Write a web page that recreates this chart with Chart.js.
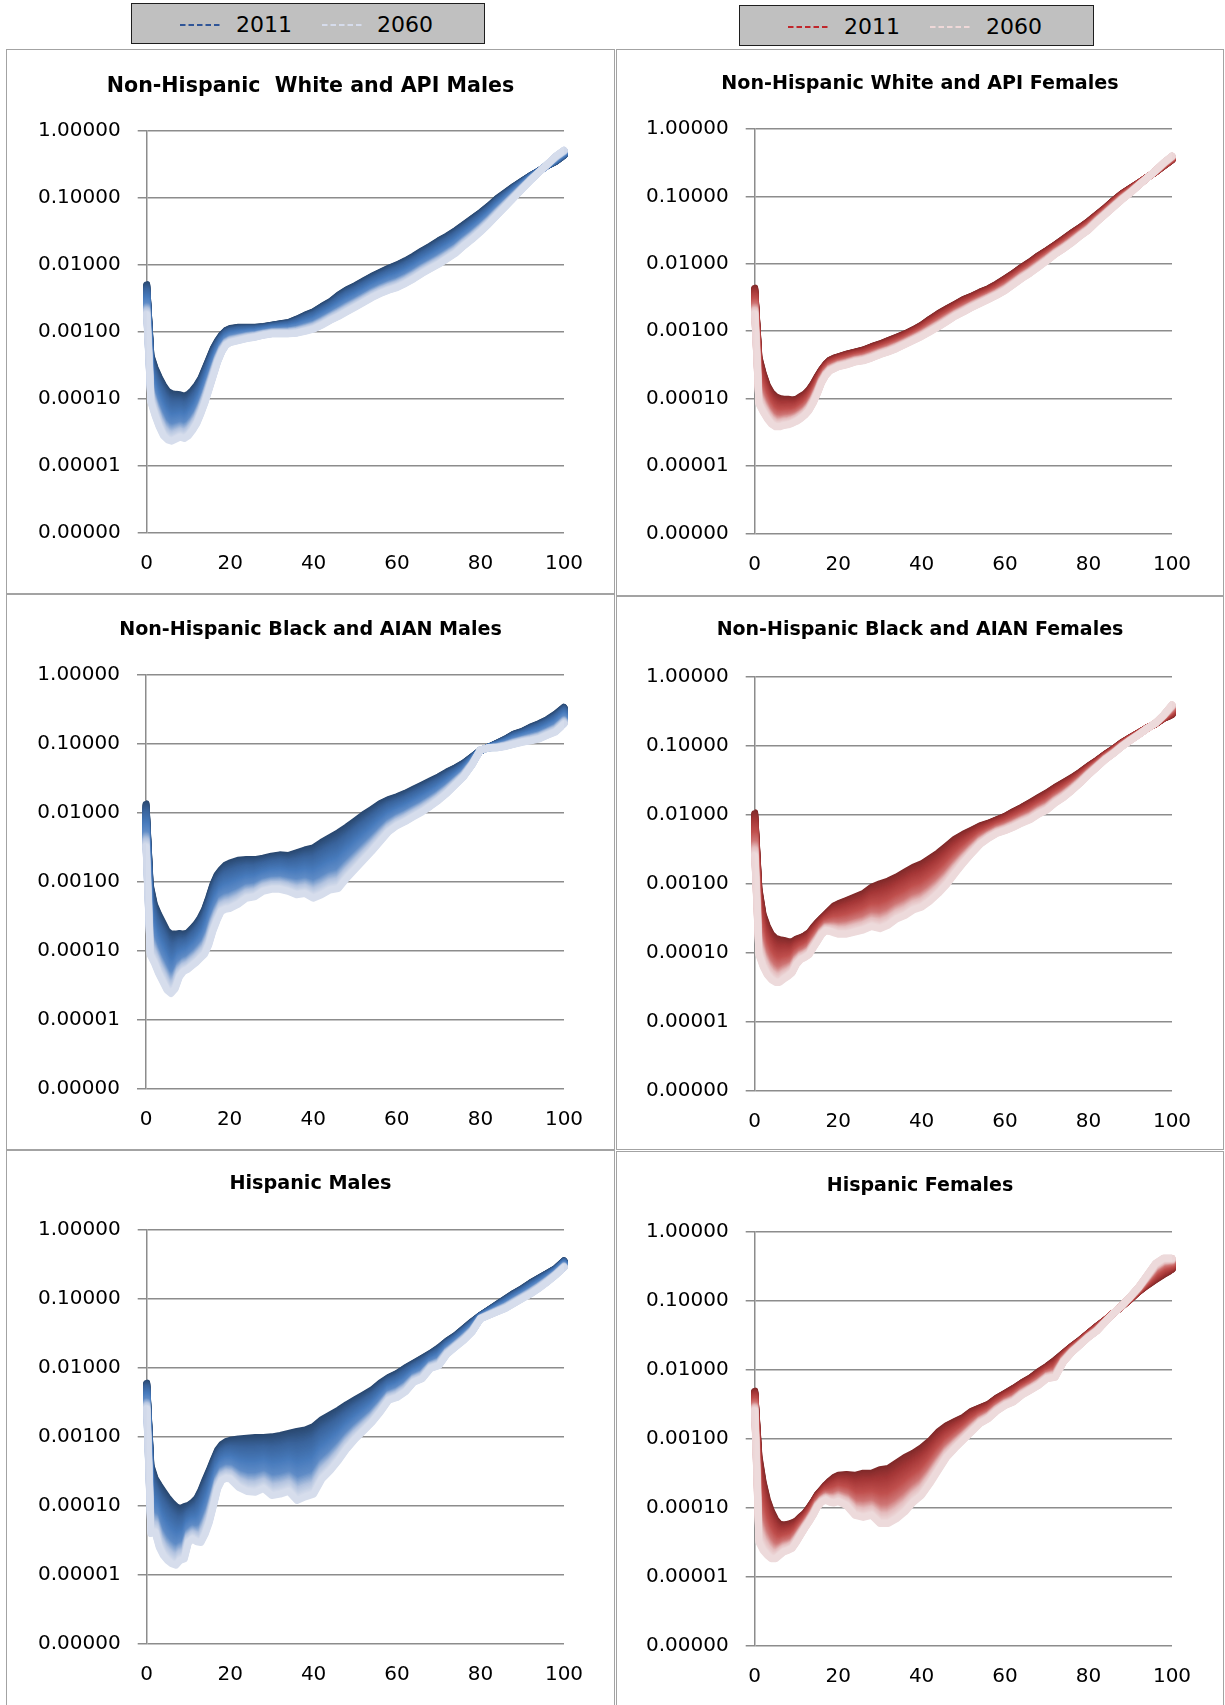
<!DOCTYPE html>
<html>
<head>
<meta charset="utf-8">
<script src="https://cdn.jsdelivr.net/npm/chart.js@4.4.0/dist/chart.umd.min.js"></script>
<style>
  html, body { margin: 0; padding: 0; background: #fff; }
  body { width: 1225px; height: 1705px; position: relative; overflow: hidden; font-family: "DejaVu Sans", sans-serif; }
  .panel { position: absolute; box-sizing: border-box; border: 1.5px solid #a3a3a3; pointer-events: none; }
  .title { position: absolute; text-align: center; font-weight: bold; color: #000; white-space: pre; }
  canvas { position: absolute; }
  .legend { position: absolute; box-sizing: border-box; background: #c0c0c0; border: 1.5px solid #1e1e1e; }
  .legend span { position: absolute; font-size: 22px; line-height: 22px; color: #000; }
  .legend svg { position: absolute; }
</style>
</head>
<body>
<script>
// Death probability by single year of age, projection years 2011 and 2060
const ages = [0,1,2,3,4,5,6,7,8,9,10,11,12,13,14,15,16,17,18,19,20,
  22,24,26,28,30,32,34,36,38,40,42,44,46,48,50,52,54,56,58,60,
  62,64,66,68,70,72,74,76,78,80,82,84,86,88,90,92,94,96,98,100];

const whiteApiMales2011 = [5.1e-3,4.5e-4,2.9e-4,2.1e-4,1.6e-4,1.3e-4,1.2e-4,1.17e-4,1.15e-4,1.1e-4,1.17e-4,1.35e-4,1.62e-4,2.04e-4,2.88e-4,4.07e-4,5.75e-4,7.41e-4,9.12e-4,1.05e-3,1.12e-3,
  1.17e-3,1.17e-3,1.17e-3,1.2e-3,1.26e-3,1.32e-3,1.38e-3,1.55e-3,1.78e-3,2.0e-3,2.4e-3,2.82e-3,3.55e-3,4.27e-3,4.9e-3,5.75e-3,6.76e-3,7.76e-3,8.91e-3,1.0e-2,
  1.15e-2,1.35e-2,1.62e-2,1.91e-2,2.29e-2,2.69e-2,3.24e-2,3.98e-2,4.9e-2,6.03e-2,7.59e-2,9.77e-2,0.12,0.148,0.178,0.214,0.251,0.302,0.347,0.427];
const whiteApiMales2060 = [1.78e-3,8.91e-5,5.62e-5,3.8e-5,2.82e-5,2.45e-5,2.34e-5,2.51e-5,2.69e-5,2.57e-5,2.82e-5,3.39e-5,4.27e-5,6.03e-5,8.91e-5,1.41e-4,2.24e-4,3.55e-4,5.01e-4,6.31e-4,6.92e-4,
  7.41e-4,7.94e-4,8.32e-4,8.91e-4,9.33e-4,9.33e-4,9.33e-4,9.55e-4,1.02e-3,1.1e-3,1.26e-3,1.48e-3,1.7e-3,2.0e-3,2.34e-3,2.75e-3,3.24e-3,3.72e-3,4.17e-3,4.57e-3,
  5.25e-3,6.17e-3,7.41e-3,8.71e-3,1.02e-2,1.23e-2,1.48e-2,1.91e-2,2.4e-2,3.09e-2,4.07e-2,5.5e-2,7.41e-2,0.1,0.135,0.182,0.24,0.316,0.417,0.513];

const whiteApiFemales2011 = [4.37e-3,4.17e-4,2.4e-4,1.58e-4,1.23e-4,1.07e-4,1.0e-4,9.77e-5,9.77e-5,9.55e-5,9.77e-5,1.07e-4,1.17e-4,1.35e-4,1.66e-4,2.14e-4,2.69e-4,3.24e-4,3.72e-4,3.98e-4,4.17e-4,
  4.57e-4,4.9e-4,5.25e-4,5.89e-4,6.46e-4,7.24e-4,8.13e-4,9.12e-4,1.05e-3,1.23e-3,1.51e-3,1.82e-3,2.14e-3,2.51e-3,2.95e-3,3.31e-3,3.8e-3,4.27e-3,5.01e-3,6.03e-3,
  7.24e-3,8.91e-3,1.07e-2,1.32e-2,1.58e-2,1.91e-2,2.34e-2,2.88e-2,3.47e-2,4.27e-2,5.37e-2,6.76e-2,8.71e-2,0.11,0.132,0.158,0.191,0.229,0.282,0.347];
const whiteApiFemales2060 = [1.78e-3,8.32e-5,6.31e-5,5.01e-5,4.17e-5,3.8e-5,3.8e-5,3.98e-5,4.07e-5,4.27e-5,4.57e-5,5.01e-5,5.62e-5,6.61e-5,8.51e-5,1.17e-4,1.7e-4,2.19e-4,2.57e-4,2.75e-4,2.95e-4,
  3.16e-4,3.47e-4,3.63e-4,3.98e-4,4.47e-4,4.9e-4,5.5e-4,6.31e-4,7.24e-4,8.32e-4,9.77e-4,1.15e-3,1.38e-3,1.66e-3,1.91e-3,2.24e-3,2.57e-3,2.95e-3,3.39e-3,3.98e-3,
  4.9e-3,6.03e-3,7.24e-3,8.91e-3,1.1e-2,1.38e-2,1.66e-2,2.04e-2,2.57e-2,3.16e-2,4.17e-2,5.37e-2,6.92e-2,8.91e-2,0.112,0.145,0.186,0.24,0.316,0.398];

const blackAianMales2011 = [1.35e-2,9.12e-4,4.68e-4,3.39e-4,2.57e-4,1.95e-4,1.74e-4,1.74e-4,1.78e-4,1.74e-4,1.82e-4,2.09e-4,2.45e-4,3.02e-4,3.98e-4,5.89e-4,9.12e-4,1.26e-3,1.51e-3,1.74e-3,1.86e-3,
  2.04e-3,2.09e-3,2.09e-3,2.19e-3,2.34e-3,2.45e-3,2.4e-3,2.63e-3,2.88e-3,3.09e-3,3.72e-3,4.37e-3,5.13e-3,6.17e-3,7.59e-3,9.33e-3,1.12e-2,1.35e-2,1.55e-2,1.7e-2,
  1.91e-2,2.19e-2,2.51e-2,2.88e-2,3.31e-2,3.89e-2,4.47e-2,5.25e-2,6.46e-2,7.94e-2,8.91e-2,0.102,0.117,0.138,0.151,0.174,0.195,0.224,0.269,0.339];
const blackAianMales2060 = [3.16e-3,8.71e-5,6.61e-5,4.68e-5,3.55e-5,2.69e-5,2.4e-5,2.82e-5,4.17e-5,5.01e-5,5.37e-5,6.03e-5,6.76e-5,7.76e-5,8.91e-5,1.2e-4,1.91e-4,2.75e-4,3.72e-4,3.98e-4,4.07e-4,
  4.68e-4,5.75e-4,6.03e-4,7.24e-4,7.76e-4,7.76e-4,7.24e-4,6.46e-4,6.76e-4,5.75e-4,6.46e-4,7.59e-4,7.94e-4,1.12e-3,1.51e-3,2.04e-3,2.75e-3,3.8e-3,5.25e-3,6.46e-3,
  7.41e-3,8.71e-3,1.02e-2,1.23e-2,1.51e-2,1.91e-2,2.51e-2,3.31e-2,4.9e-2,8.13e-2,8.71e-2,8.71e-2,9.12e-2,9.77e-2,0.105,0.11,0.117,0.132,0.148,0.191];

const blackAianFemales2011 = [1.07e-2,8.71e-4,3.63e-4,2.45e-4,1.86e-4,1.62e-4,1.55e-4,1.51e-4,1.45e-4,1.45e-4,1.58e-4,1.66e-4,1.78e-4,1.95e-4,2.34e-4,2.75e-4,3.16e-4,3.63e-4,4.17e-4,4.79e-4,5.13e-4,
  5.75e-4,6.46e-4,7.24e-4,8.91e-4,1.0e-3,1.1e-3,1.26e-3,1.48e-3,1.74e-3,1.95e-3,2.34e-3,2.82e-3,3.55e-3,4.47e-3,5.25e-3,6.03e-3,6.92e-3,7.59e-3,8.51e-3,9.55e-3,
  1.12e-2,1.29e-2,1.51e-2,1.78e-2,2.09e-2,2.51e-2,2.95e-2,3.47e-2,4.17e-2,5.13e-2,6.17e-2,7.59e-2,9.12e-2,0.112,0.132,0.155,0.182,0.209,0.251,0.282];
const blackAianFemales2060 = [2.51e-3,9.33e-5,6.31e-5,4.79e-5,4.07e-5,3.72e-5,3.72e-5,4.17e-5,4.57e-5,5.13e-5,6.76e-5,7.94e-5,8.51e-5,9.33e-5,1.17e-4,1.45e-4,1.82e-4,2.09e-4,2.04e-4,1.95e-4,1.86e-4,
  1.86e-4,2.0e-4,2.14e-4,2.4e-4,2.24e-4,2.51e-4,3.09e-4,3.47e-4,4.17e-4,4.57e-4,5.62e-4,7.24e-4,9.77e-4,1.41e-3,2.0e-3,2.75e-3,3.72e-3,4.57e-3,5.37e-3,5.89e-3,
  6.61e-3,7.59e-3,8.51e-3,1.02e-2,1.17e-2,1.48e-2,1.78e-2,2.24e-2,2.88e-2,3.8e-2,4.9e-2,6.31e-2,7.76e-2,9.77e-2,0.12,0.145,0.178,0.214,0.282,0.398];

const hispanicMales2011 = [6.03e-3,3.89e-4,2.51e-4,2.0e-4,1.62e-4,1.32e-4,1.12e-4,9.77e-5,9.12e-5,9.77e-5,1.02e-4,1.12e-4,1.29e-4,1.7e-4,2.4e-4,3.31e-4,4.68e-4,6.46e-4,7.76e-4,8.51e-4,8.91e-4,
  9.33e-4,9.55e-4,9.77e-4,9.77e-4,1.0e-3,1.05e-3,1.12e-3,1.2e-3,1.26e-3,1.41e-3,1.78e-3,2.09e-3,2.45e-3,2.95e-3,3.47e-3,4.07e-3,4.79e-3,6.03e-3,7.24e-3,8.32e-3,
  1.0e-2,1.17e-2,1.38e-2,1.62e-2,1.95e-2,2.45e-2,2.95e-2,3.72e-2,4.68e-2,5.75e-2,6.92e-2,8.32e-2,0.1,0.12,0.141,0.17,0.2,0.234,0.275,0.355];
const hispanicMales2060 = [2.51e-3,3.98e-5,4.17e-5,2.51e-5,1.91e-5,1.62e-5,1.45e-5,1.38e-5,1.62e-5,1.7e-5,2.95e-5,3.31e-5,3.02e-5,2.95e-5,3.89e-5,5.75e-5,1.0e-4,1.78e-4,2.34e-4,2.51e-4,2.45e-4,
  1.86e-4,1.62e-4,1.58e-4,1.78e-4,1.41e-4,1.48e-4,1.62e-4,1.2e-4,1.35e-4,1.48e-4,2.45e-4,3.24e-4,4.57e-4,6.76e-4,9.33e-4,1.23e-3,1.62e-3,2.29e-3,3.39e-3,3.72e-3,
  4.47e-3,6.17e-3,6.92e-3,9.77e-3,1.07e-2,1.58e-2,2.0e-2,2.51e-2,3.31e-2,5.13e-2,5.75e-2,6.46e-2,7.24e-2,8.51e-2,0.1,0.117,0.141,0.174,0.219,0.282];

const hispanicFemales2011 = [4.9e-3,5.75e-4,2.4e-4,1.32e-4,8.91e-5,6.76e-5,5.75e-5,5.62e-5,5.75e-5,6.03e-5,6.46e-5,7.41e-5,8.32e-5,1.0e-4,1.23e-4,1.55e-4,1.82e-4,2.14e-4,2.45e-4,2.75e-4,2.95e-4,
  3.02e-4,2.95e-4,3.16e-4,3.16e-4,3.55e-4,3.72e-4,4.47e-4,5.37e-4,6.17e-4,7.41e-4,9.33e-4,1.26e-3,1.55e-3,1.78e-3,2.04e-3,2.51e-3,2.82e-3,3.16e-3,3.89e-3,4.57e-3,
  5.37e-3,6.46e-3,7.59e-3,9.33e-3,1.12e-2,1.38e-2,1.74e-2,2.19e-2,2.69e-2,3.39e-2,4.27e-2,5.25e-2,6.61e-2,8.32e-2,0.105,0.135,0.166,0.2,0.24,0.282];
const hispanicFemales2060 = [2.51e-3,3.16e-5,2.4e-5,2.04e-5,1.82e-5,1.82e-5,2.04e-5,2.29e-5,2.4e-5,2.57e-5,3.16e-5,3.98e-5,5.01e-5,6.17e-5,7.76e-5,1.02e-4,1.2e-4,1.29e-4,1.2e-4,1.17e-4,1.23e-4,
  1.07e-4,7.76e-5,7.24e-5,7.76e-5,5.89e-5,5.89e-5,6.92e-5,8.71e-5,1.2e-4,1.51e-4,2.24e-4,3.47e-4,5.37e-4,7.24e-4,9.55e-4,1.26e-3,1.66e-3,1.95e-3,2.51e-3,3.02e-3,
  3.39e-3,4.27e-3,5.01e-3,5.89e-3,7.41e-3,7.76e-3,1.29e-2,1.78e-2,2.29e-2,2.95e-2,3.63e-2,4.9e-2,6.61e-2,8.51e-2,0.115,0.158,0.234,0.347,0.417,0.417];

const yearLabels = ['2011', '2060'];
const yTickValues = [1e-6, 1e-5, 1e-4, 1e-3, 1e-2, 1e-1, 1];
const yTickLabels = ['0.00000', '0.00001', '0.00010', '0.00100', '0.01000', '0.10000', '1.00000'];
const xTickValues = [0, 20, 40, 60, 80, 100];

// Colour ramps from the first projection year to the last
const blueRamp = [[0, 42, 72, 112], [0.22, 58, 100, 156], [0.5, 72, 123, 188], [0.7, 96, 140, 198], [0.86, 178, 195, 223], [1, 214, 221, 236]];
const redRamp  = [[0, 128, 42, 42], [0.22, 165, 55, 55], [0.5, 192, 80, 78], [0.7, 206, 118, 117], [0.86, 228, 188, 189], [1, 237, 218, 219]];

// Panel boxes [left, top, width, height], plot areas [left, top, right, bottom], title centre line and size
const panels = [
  { title: 'Non-Hispanic  White and API Males', s0: whiteApiMales2011, s1: whiteApiMales2060, ramp: blueRamp,
    box: [6, 49, 609, 545], area: [146.7, 130.7, 564, 533], titleY: 85, titleSize: 20.6 },
  { title: 'Non-Hispanic White and API Females', s0: whiteApiFemales2011, s1: whiteApiFemales2060, ramp: redRamp,
    box: [616, 49, 608, 547], area: [754.7, 129, 1172, 533.3], titleY: 83, titleSize: 19.1 },
  { title: 'Non-Hispanic Black and AIAN Males', s0: blackAianMales2011, s1: blackAianMales2060, ramp: blueRamp,
    box: [6, 594, 609, 556], area: [146, 674.7, 564, 1088.7], titleY: 628.5, titleSize: 19.1 },
  { title: 'Non-Hispanic Black and AIAN Females', s0: blackAianFemales2011, s1: blackAianFemales2060, ramp: redRamp,
    box: [616, 596, 608, 554], area: [754.7, 677, 1172, 1090.7], titleY: 628.5, titleSize: 19 },
  { title: 'Hispanic Males', s0: hispanicMales2011, s1: hispanicMales2060, ramp: blueRamp,
    box: [6, 1150, 609, 560], area: [146.7, 1229.7, 564, 1644], titleY: 1183, titleSize: 19.2 },
  { title: 'Hispanic Females', s0: hispanicFemales2011, s1: hispanicFemales2060, ramp: redRamp,
    box: [616, 1151, 608, 560], area: [754.7, 1231.7, 1172, 1645.7], titleY: 1184, titleSize: 19 }
];

function shade(ramp, t) {
  for (let i = 1; i < ramp.length; i++) {
    if (t <= ramp[i][0]) {
      const a = ramp[i - 1], b = ramp[i];
      const u = (t - a[0]) / (b[0] - a[0]);
      const c = [1, 2, 3].map(k => Math.round(a[k] + (b[k] - a[k]) * u));
      return 'rgb(' + c.join(',') + ')';
    }
  }
  const l = ramp[ramp.length - 1];
  return 'rgb(' + l[1] + ',' + l[2] + ',' + l[3] + ')';
}

// Shades the band between the first and last year with one stroke per intermediate year
const yearBand = {
  id: 'yearBand',
  afterDatasetDraw(chart, args, opts) {
    if (args.index !== 0) return;
    const a = chart.getDatasetMeta(0).data;
    const b = chart.getDatasetMeta(1).data;
    const n = Math.min(a.length, b.length);
    const ctx = chart.ctx;
    ctx.save();
    ctx.lineWidth = opts.width;
    ctx.lineCap = 'round';
    ctx.lineJoin = 'round';
    for (let k = 1; k < opts.steps; k++) {
      const t = k / opts.steps;
      ctx.strokeStyle = shade(opts.ramp, t);
      ctx.beginPath();
      for (let i = 0; i < n; i++) {
        const x = a[i].x + (b[i].x - a[i].x) * t;
        const y = a[i].y + (b[i].y - a[i].y) * t;
        if (i === 0) ctx.moveTo(x, y); else ctx.lineTo(x, y);
      }
      ctx.stroke();
    }
    ctx.restore();
  }
};

Chart.defaults.font.family = '"DejaVu Sans", sans-serif';
Chart.defaults.color = '#000';

const LINE_W = 7;
const X_AXIS_H = 45;

panels.forEach(p => {
  const [bl, bt, bw, bh] = p.box;
  const canvas = document.createElement('canvas');
  canvas.width = bw; canvas.height = bh;
  canvas.style.left = bl + 'px'; canvas.style.top = bt + 'px';
  canvas.style.width = bw + 'px'; canvas.style.height = bh + 'px';
  document.body.appendChild(canvas);

  const frame = document.createElement('div');
  frame.className = 'panel';
  frame.style.left = bl + 'px'; frame.style.top = bt + 'px';
  frame.style.width = bw + 'px'; frame.style.height = bh + 'px';
  document.body.appendChild(frame);

  const title = document.createElement('div');
  title.className = 'title';
  title.textContent = p.title;
  title.style.fontSize = p.titleSize + 'px';
  title.style.lineHeight = p.titleSize + 'px';
  title.style.left = bl + 'px'; title.style.width = bw + 'px';
  title.style.top = (p.titleY - p.titleSize / 2) + 'px';
  document.body.appendChild(title);

  const aL = p.area[0] - bl, aT = p.area[1] - bt, aR = p.area[2] - bl, aB = p.area[3] - bt;

  new Chart(canvas, {
    type: 'line',
    data: {
      datasets: [
        { label: yearLabels[0], data: ages.map((x, i) => ({ x, y: p.s0[i] })), borderColor: shade(p.ramp, 0), order: 1 },
        { label: yearLabels[1], data: ages.map((x, i) => ({ x, y: p.s1[i] })), borderColor: shade(p.ramp, 1), order: 0 }
      ]
    },
    options: {
      responsive: false,
      animation: false,
      devicePixelRatio: 1,
      events: [],
      layout: { padding: { left: 0, top: aT, right: bw - aR, bottom: bh - aB - X_AXIS_H } },
      elements: {
        line: { borderWidth: LINE_W, borderCapStyle: 'round', borderJoinStyle: 'round', tension: 0, fill: false },
        point: { radius: 0 }
      },
      plugins: {
        legend: { display: false },
        tooltip: { enabled: false },
        title: { display: false },
        yearBand: { steps: 49, width: LINE_W, ramp: p.ramp }
      },
      scales: {
        x: {
          type: 'linear', min: 0, max: 100,
          afterBuildTicks: ax => { ax.ticks = xTickValues.map(v => ({ value: v })); },
          afterFit: s => { s.height = X_AXIS_H; },
          ticks: { padding: 19, autoSkip: false, maxRotation: 0, font: { size: 20 }, color: '#000', callback: v => String(v) },
          grid: { display: false, drawTicks: false },
          border: { display: false }
        },
        y: {
          type: 'logarithmic', min: 1e-6, max: 1,
          afterBuildTicks: ax => { ax.ticks = yTickValues.map(v => ({ value: v })); },
          afterFit: s => { s.width = aL; },
          ticks: { padding: 17, autoSkip: false, font: { size: 20 }, color: '#000', callback: (v, i) => yTickLabels[i] },
          grid: { color: '#8c8c8c', lineWidth: 1.5, drawTicks: true, tickLength: 9 },
          border: { display: true, color: '#8c8c8c', width: 1.5 }
        }
      }
    },
    plugins: [yearBand]
  });
});

// Legends: one per colour family
const legends = [
  { box: [131, 3, 354, 41], dark: '#2f5597', light: '#d6dcec', cy: 24, items: [[179, 235], [321, 376]] },
  { box: [739, 5, 355, 41], dark: '#c0262b', light: '#efd8d8', cy: 26, items: [[787, 843], [929, 985]] }
];
legends.forEach(lg => {
  const d = document.createElement('div');
  d.className = 'legend';
  d.style.left = lg.box[0] + 'px'; d.style.top = lg.box[1] + 'px';
  d.style.width = lg.box[2] + 'px'; d.style.height = lg.box[3] + 'px';
  document.body.appendChild(d);
  lg.items.forEach((it, k) => {
    const svgNS = 'http://www.w3.org/2000/svg';
    const svg = document.createElementNS(svgNS, 'svg');
    svg.setAttribute('width', '42'); svg.setAttribute('height', '6');
    svg.style.left = (it[0] - lg.box[0]) + 'px';
    svg.style.top = (lg.cy - 3 - lg.box[1]) + 'px';
    const ln = document.createElementNS(svgNS, 'line');
    ln.setAttribute('x1', '0'); ln.setAttribute('y1', '3'); ln.setAttribute('x2', '42'); ln.setAttribute('y2', '3');
    ln.setAttribute('stroke', k === 0 ? lg.dark : lg.light);
    ln.setAttribute('stroke-width', '2');
    ln.setAttribute('stroke-dasharray', '5.5 3');
    svg.appendChild(ln);
    d.appendChild(svg);
    const s = document.createElement('span');
    s.textContent = yearLabels[k];
    s.style.left = (it[1] - lg.box[0]) + 'px';
    s.style.top = (lg.cy - 11 - lg.box[1]) + 'px';
    d.appendChild(s);
  });
});
</script>
</body>
</html>
